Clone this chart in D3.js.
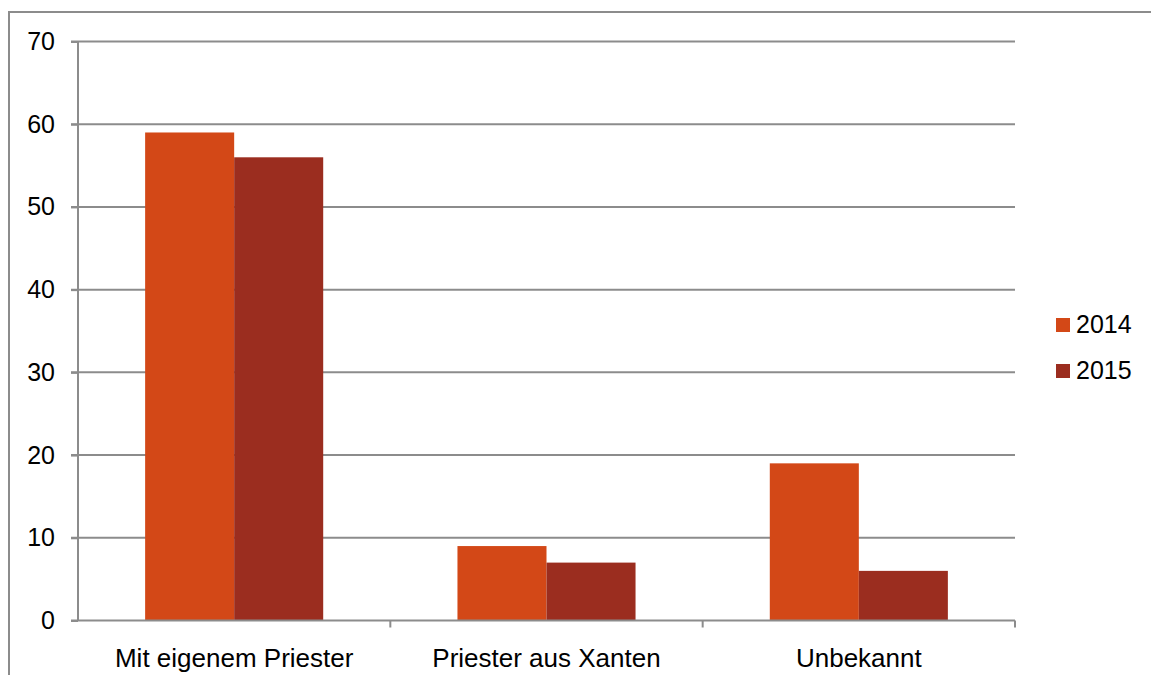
<!DOCTYPE html>
<html>
<head>
<meta charset="utf-8">
<script src="https://cdn.jsdelivr.net/npm/d3@7"></script>
<style>
  body { margin: 0; background: #fff; }
  text { font-family: "Liberation Sans", Arial, sans-serif; }
</style>
</head>
<body>
<div id="chart"></div>
<script>
// Daten
const categories = ["Mit eigenem Priester", "Priester aus Xanten", "Unbekannt"]
const years = ["2014", "2015"]
const values2014 = [59, 9, 19]
const values2015 = [56, 7, 6]
const yTicks = [0, 10, 20, 30, 40, 50, 60, 70]
const colors = ["#D34817", "#9B2D1F"]

const width = 1151
const height = 675
const margin = { top: 41.5, bottom: 54.5, left: 78, right: 136 }
const fontSize = 26

const svg = d3.select("#chart").append("svg").attr("width", width).attr("height", height)

// äußerer Rahmen
svg.append("rect")
    .attr("x", 9).attr("y", 12)
    .attr("width", width + 20).attr("height", height + 20)
    .attr("fill", "none").attr("stroke", "#8c8c8c").attr("stroke-width", 2)

const data = categories.map((c, i) => ({ category: c, values: [values2014[i], values2015[i]] }))

// Skalen
const x0 = d3.scaleBand().domain(categories).range([margin.left, width - margin.right]).padding(0)
const x1 = d3.scaleBand().domain(years).range([0, x0.bandwidth()]).paddingInner(0).paddingOuter(0.754)
const y = d3.scaleLinear().domain([0, 70]).range([height - margin.bottom, margin.top])

// Gitterlinien
svg.append("g").selectAll("line").data(yTicks.filter(d => d > 0))
    .join("line")
        .attr("x1", margin.left - 7).attr("x2", width - margin.right)
        .attr("y1", d => y(d)).attr("y2", d => y(d))
        .attr("stroke", "#8c8c8c").attr("stroke-width", 2)

// Balken
const groups = svg.append("g").selectAll("g").data(data)
    .join("g")
        .attr("transform", d => `translate(${x0(d.category)},0)`)

groups.selectAll("rect").data(d => d.values.map((v, i) => ({ year: years[i], value: v, idx: i })))
    .join("rect")
        .attr("x", d => x1(d.year))
        .attr("y", d => y(d.value))
        .attr("width", x1.bandwidth())
        .attr("height", d => y(0) - y(d.value))
        .attr("fill", d => colors[d.idx])

// y-Achse
const yAxis = d3.axisLeft(y).tickValues(yTicks).tickSize(7).tickPadding(16)
const yAxisGroup = svg.append("g").attr("transform", `translate(${margin.left},0)`).call(yAxis)
yAxisGroup.select(".domain").attr("stroke", "#8c8c8c").attr("stroke-width", 2).attr("d", `M0,${y(70)}V${y(0)}`)
yAxisGroup.selectAll(".tick line").attr("stroke", "#8c8c8c").attr("stroke-width", 2)
yAxisGroup.selectAll(".tick text").attr("font-size", 25).attr("fill", "#000")
    .attr("font-family", "Liberation Sans, Arial, sans-serif")

// x-Achse
const xAxisGroup = svg.append("g").attr("transform", `translate(0,${y(0)})`)
xAxisGroup.append("line")
    .attr("x1", margin.left - 7).attr("x2", width - margin.right)
    .attr("stroke", "#8c8c8c").attr("stroke-width", 2)
const boundaries = categories.map(c => x0(c) + x0.bandwidth())
xAxisGroup.selectAll(".bt").data(boundaries)
    .join("line")
        .attr("class", "bt")
        .attr("x1", d => d).attr("x2", d => d)
        .attr("y1", 0).attr("y2", 7)
        .attr("stroke", "#8c8c8c").attr("stroke-width", 2)
xAxisGroup.selectAll(".cl").data(categories)
    .join("text")
        .attr("class", "cl")
        .attr("x", d => x0(d) + x0.bandwidth() / 2)
        .attr("y", 46)
        .attr("text-anchor", "middle")
        .attr("font-size", fontSize)
        .text(d => d)

// Legende
const legend = svg.append("g").selectAll("g").data(years)
    .join("g")
        .attr("transform", (d, i) => `translate(1056,${318 + i * 46})`)
legend.append("rect").attr("width", 14).attr("height", 14).attr("fill", (d, i) => colors[i])
legend.append("text").attr("x", 20).attr("y", 15).attr("font-size", 25).text(d => d)
</script>
</body>
</html>
